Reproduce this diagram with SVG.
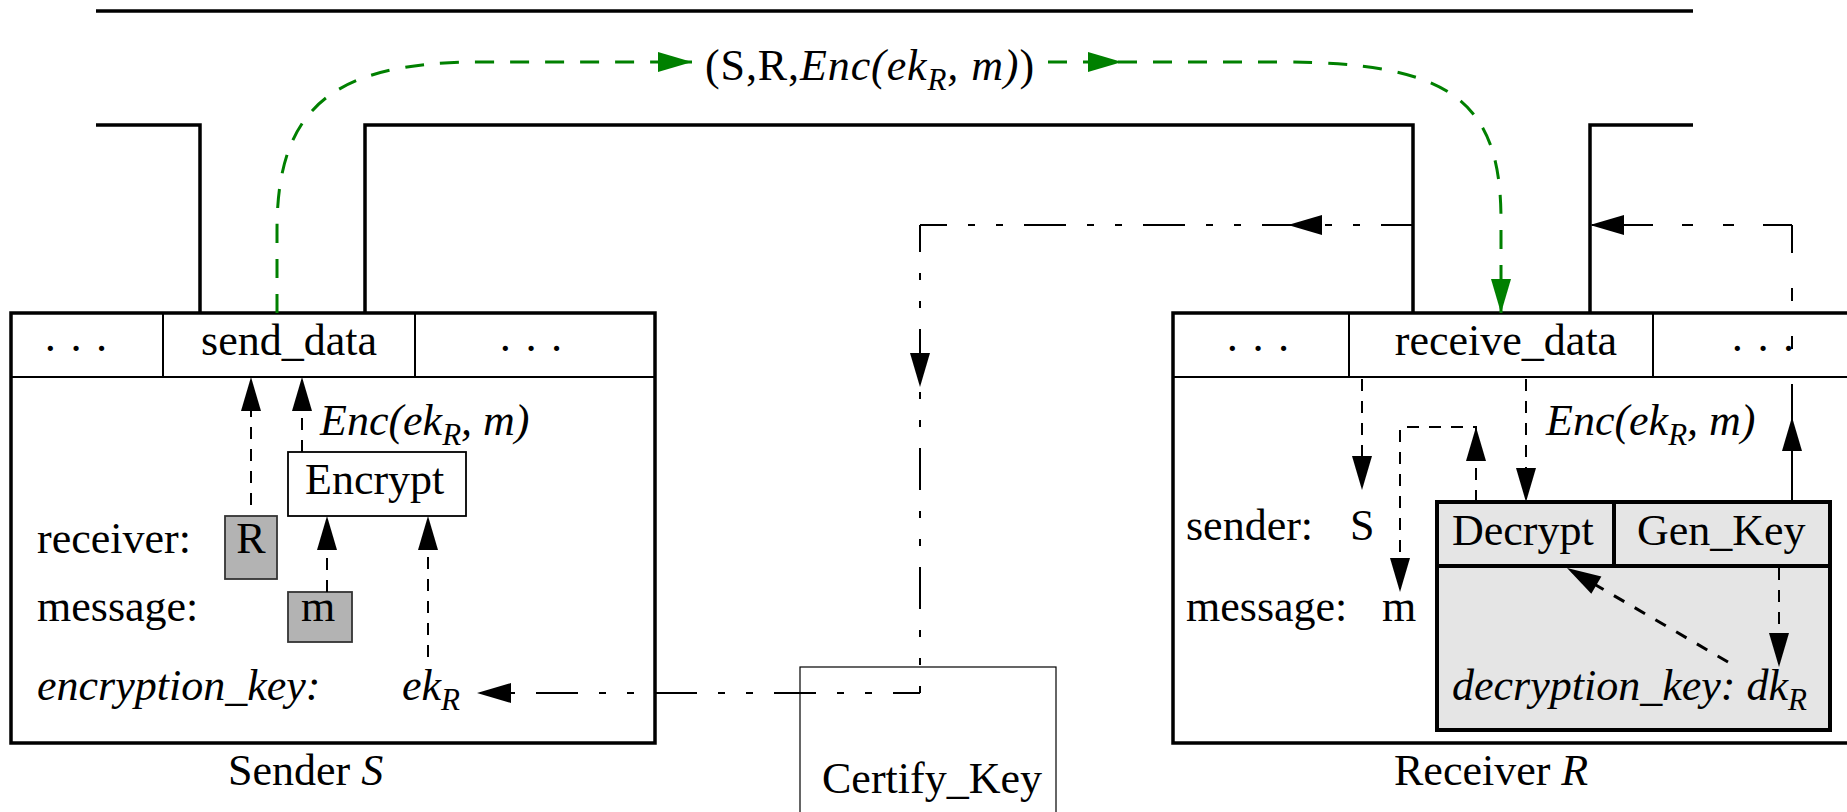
<svg xmlns="http://www.w3.org/2000/svg" width="1847" height="812" viewBox="0 0 1847 812">
<style>
  text { font-family: "Liberation Serif", "Times New Roman", serif; font-size: 44px; fill: #000; }
  .it { font-style: italic; }
  .sub { font-size: 31px; }
  .wall { fill: none; stroke: #000; stroke-width: 3.5; }
  .box { fill: #fff; stroke: #000; stroke-width: 3.5; }
  .thin { fill: none; stroke: #000; stroke-width: 2; }
  .val { fill: #b3b3b3; stroke: #333; stroke-width: 1.8; }
  .dash { fill: none; stroke: #000; stroke-width: 2; stroke-dasharray: 12 10; }
  .dashb { fill: none; stroke: #000; stroke-width: 3; stroke-dasharray: 12 12; }
  .dd { fill: none; stroke: #000; stroke-width: 2; stroke-dasharray: 42 21 7 21 7 21; stroke-dashoffset: 15; }
  .green { fill: none; stroke: #008000; stroke-width: 3; stroke-dasharray: 19 16; }
  .ahk { fill: #000; }
  .ahg { fill: #008000; }
</style>
<defs>
  <path id="ah" d="M0,0 L-34,-10 L-34,10 Z"/>
</defs>

<g id="channel">
  <line class="wall" x1="96" y1="11" x2="1693" y2="11"/>
  <path class="wall" d="M96,125 L200,125 L200,313"/>
  <path class="wall" d="M365,313 L365,125 L1413,125 L1413,313"/>
  <path class="wall" d="M1590,313 L1590,125 L1693,125"/>
</g>

<g id="message">
  <text x="705" y="80" letter-spacing="0.9">(S,R,<tspan class="it">Enc(ek</tspan><tspan class="it sub" dy="10">R</tspan><tspan class="it" dy="-10">, m)</tspan>)</text>
</g>

<g id="sender">
  <rect class="box" x="11" y="313" width="644" height="430"/>
  <line class="thin" x1="11" y1="377" x2="655" y2="377"/>
  <line class="thin" x1="163" y1="313" x2="163" y2="377"/>
  <line class="thin" x1="415" y1="313" x2="415" y2="377"/>
  <text x="76" y="363" text-anchor="middle">· · ·</text>
  <text x="289" y="355" text-anchor="middle">send_data</text>
  <text x="531" y="363" text-anchor="middle">· · ·</text>
  <text class="it" x="320" y="435">Enc(ek<tspan class="sub" dy="10">R</tspan><tspan dy="-10">, m)</tspan></text>
  <g id="encrypt">
    <rect x="288" y="452" width="178" height="64" fill="#fff" stroke="#000" stroke-width="1.8"/>
    <text x="305" y="494">Encrypt</text>
  </g>
  <text x="37" y="553">receiver:</text>
  <rect class="val" x="225" y="516" width="52" height="63"/>
  <text x="251" y="553" text-anchor="middle">R</text>
  <text x="37" y="621">message:</text>
  <rect class="val" x="288" y="592" width="64" height="50"/>
  <text x="318" y="621" text-anchor="middle">m</text>
  <text class="it" x="37" y="700">encryption_key:</text>
  <text class="it" x="402" y="700">ek<tspan class="sub" dy="10">R</tspan></text>
  <text x="228" y="785">Sender <tspan class="it">S</tspan></text>
</g>

<g id="certify_key">
  <rect x="800" y="667" width="256" height="200" fill="none" stroke="#000" stroke-width="1.2"/>
  <text x="822" y="793">Certify_Key</text>
</g>

<g id="receiver">
  <rect class="box" x="1173" y="313" width="700" height="430"/>
  <line class="thin" x1="1173" y1="377" x2="1847" y2="377"/>
  <line class="thin" x1="1349" y1="313" x2="1349" y2="377"/>
  <line class="thin" x1="1653" y1="313" x2="1653" y2="377"/>
  <text x="1258" y="363" text-anchor="middle">· · ·</text>
  <text x="1506" y="355" text-anchor="middle">receive_data</text>
  <text x="1763" y="363" text-anchor="middle">· · ·</text>
  <text class="it" x="1546" y="435">Enc(ek<tspan class="sub" dy="10">R</tspan><tspan dy="-10">, m)</tspan></text>
  <text x="1186" y="540">sender:</text>
  <text x="1350" y="540">S</text>
  <text x="1186" y="621">message:</text>
  <text x="1382" y="621">m</text>
  <g id="decrypt_genkey">
    <rect x="1437" y="502" width="393" height="228" fill="#e5e5e5" stroke="#000" stroke-width="4"/>
    <line x1="1437" y1="566" x2="1830" y2="566" stroke="#000" stroke-width="4"/>
    <line x1="1614" y1="502" x2="1614" y2="566" stroke="#000" stroke-width="4"/>
    <text x="1452" y="545">Decrypt</text>
    <text x="1637" y="545">Gen_Key</text>
    <text class="it" x="1452" y="700">decryption_key: dk<tspan class="sub" dy="10">R</tspan></text>
  </g>
  <text x="1394" y="785">Receiver <tspan class="it">R</tspan></text>
</g>

<g id="connectors">
  <!-- green message flow -->
  <path class="green" d="M277,313 L277,230 C277,110 330,62 480,62 L692,62"/>
  <path class="green" d="M1048,62 L1280,62 C1450,62 1501,100 1501,220 L1501,313"/>
  <use href="#ah" class="ahg" transform="translate(692,62)"/>
  <use href="#ah" class="ahg" transform="translate(1122,62)"/>
  <use href="#ah" class="ahg" transform="translate(1501,313) rotate(90)"/>

  <!-- sender internal -->
  <line class="dash" x1="251" y1="505" x2="251" y2="380"/>
  <line class="dash" x1="302" y1="452" x2="302" y2="380"/>
  <line class="dash" x1="327" y1="592" x2="327" y2="520"/>
  <line class="dash" x1="428" y1="657" x2="428" y2="520"/>
  <use href="#ah" class="ahk" transform="translate(251,377) rotate(-90)"/>
  <use href="#ah" class="ahk" transform="translate(302,377) rotate(-90)"/>
  <use href="#ah" class="ahk" transform="translate(327,516) rotate(-90)"/>
  <use href="#ah" class="ahk" transform="translate(428,516) rotate(-90)"/>

  <!-- certify key distribution -->
  <path class="dd" d="M920,225 L1413,225"/>
  <path class="dd" d="M920,225 L920,693"/>
  <path class="dd" d="M920,693 L480,693"/>
  <use href="#ah" class="ahk" transform="translate(1288,225) rotate(180)"/>
  <use href="#ah" class="ahk" transform="translate(920,387) rotate(90)"/>
  <use href="#ah" class="ahk" transform="translate(477,693) rotate(180)"/>

  <!-- receiver internal -->
  <line class="dash" x1="1362" y1="379" x2="1362" y2="487"/>
  <path class="dash" d="M1476,502 L1476,427 L1400,427 L1400,589"/>
  <line class="dash" x1="1526" y1="379" x2="1526" y2="499"/>
  <line class="dash" x1="1779" y1="568" x2="1779" y2="664"/>
  <line class="dashb" x1="1728" y1="662" x2="1570" y2="570"/>
  <use href="#ah" class="ahk" transform="translate(1362,490) rotate(90)"/>
  <use href="#ah" class="ahk" transform="translate(1476,427) rotate(-90)"/>
  <use href="#ah" class="ahk" transform="translate(1400,592) rotate(90)"/>
  <use href="#ah" class="ahk" transform="translate(1526,502) rotate(90)"/>
  <use href="#ah" class="ahk" transform="translate(1779,667) rotate(90)"/>
  <use href="#ah" class="ahk" transform="translate(1567,568) rotate(-149.7)"/>

  <!-- key publication from Gen_Key -->
  <path fill="none" stroke="#000" stroke-width="2" stroke-dasharray="28 35 13 35 13 35 200" d="M1792,225 L1792,502"/>
  <path fill="none" stroke="#000" stroke-width="2" stroke-dasharray="29 29 11 30 11 29 200" d="M1792,225 L1592,225"/>
  <use href="#ah" class="ahk" transform="translate(1792,417) rotate(-90)"/>
  <use href="#ah" class="ahk" transform="translate(1590,225) rotate(180)"/>
</g>
</svg>
